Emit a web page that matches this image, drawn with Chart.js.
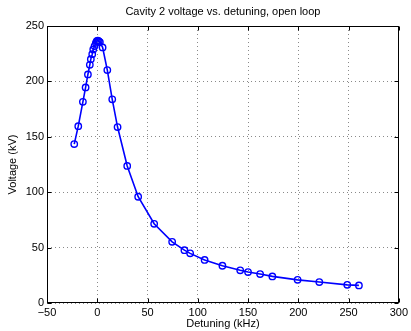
<!DOCTYPE html>
<html>
<head>
<meta charset="utf-8">
<script src="https://cdn.jsdelivr.net/npm/chart.js@4/dist/chart.umd.min.js"></script>
<style>
html,body{margin:0;padding:0;background:#fff;}
canvas{display:block;}
</style>
</head>
<body>
<canvas id="c" width="411" height="331"></canvas>
<script>
const titleText = 'Cavity 2 voltage vs. detuning, open loop';
const xLabel = 'Detuning (kHz)';
const yLabel = 'Voltage (kV)';
const detuning = [-22.9, -18.9, -14.3, -11.6, -9.3, -7.4, -6.4, -5.0, -4.0, -2.7, -1.4, -0.5, 0.5, 1.5, 2.6, 5.3, 10.0, 14.9, 20.2, 29.8, 40.7, 56.6, 74.5, 86.7, 92.4, 106.8, 124.5, 142.2, 150.0, 162.0, 174.2, 199.3, 220.9, 248.7, 260.3];
const voltage = [143.4, 159.6, 181.6, 194.6, 206.3, 215.0, 220.1, 224.6, 228.9, 231.9, 234.8, 236.3, 236.7, 236.3, 235.5, 230.7, 210.2, 183.8, 158.8, 123.7, 95.9, 71.5, 55.2, 47.7, 44.8, 38.9, 33.6, 29.5, 27.9, 26.1, 24.0, 20.9, 18.9, 16.4, 15.9];
const xTicks = [-50, 0, 50, 100, 150, 200, 250, 300];
const yTicks = [0, 50, 100, 150, 200, 250];

const FONT = 'Liberation Sans, Arial, Helvetica, sans-serif';
Chart.defaults.font.family = FONT;
Chart.defaults.font.size = 11;
Chart.defaults.color = '#000';

const points = detuning.map((x, i) => ({x: x, y: voltage[i]}));

const frame = {
  id: 'frame',
  afterDatasetsDraw(chart) {
    const ctx = chart.ctx, a = chart.chartArea;
    const xs = chart.scales.x, ys = chart.scales.y;
    const L = Math.round(a.left) + 0.5, R = Math.round(a.right) - 0.5;
    const T = Math.round(a.top) + 0.5, B = Math.round(a.bottom) - 0.5;
    ctx.save();
    ctx.strokeStyle = '#000';
    ctx.lineWidth = 1;
    ctx.beginPath();
    const tl = 4;
    xTicks.forEach(v => {
      const px = Math.round(xs.getPixelForValue(v)) + 0.5;
      ctx.moveTo(px, B); ctx.lineTo(px, B - tl);
      ctx.moveTo(px, T); ctx.lineTo(px, T + tl);
    });
    yTicks.forEach(v => {
      const py = Math.round(ys.getPixelForValue(v)) + 0.5;
      ctx.moveTo(L, py); ctx.lineTo(L + tl, py);
      ctx.moveTo(R, py); ctx.lineTo(R - tl, py);
    });
    ctx.stroke();
    ctx.strokeRect(L, T, R - L, B - T);
    ctx.fillStyle = '#000';
    ctx.font = '11px ' + FONT;
    ctx.textAlign = 'center';
    ctx.textBaseline = 'middle';
    ctx.fillText(titleText, (a.left + a.right) / 2, 12);
    ctx.restore();
  }
};

const fmt = v => (v < 0 ? '\u2212' + Math.abs(v) : String(v));

new Chart(document.getElementById('c'), {
  type: 'line',
  data: {
    datasets: [{
      data: points,
      borderColor: '#0000ff',
      backgroundColor: 'rgba(0,0,0,0)',
      borderWidth: 1.6,
      pointRadius: 3.2,
      pointBorderWidth: 1.4,
      pointBorderColor: '#0000ff',
      pointBackgroundColor: 'rgba(0,0,0,0)',
      tension: 0,
      fill: false
    }]
  },
  options: {
    responsive: false,
    animation: false,
    devicePixelRatio: 1,
    layout: {padding: {left: 0, right: 12, top: 26, bottom: 0}},
    plugins: {legend: {display: false}, tooltip: {enabled: false}, title: {display: false}},
    scales: {
      x: {
        type: 'linear', min: -50, max: 300,
        afterBuildTicks: s => { s.ticks = xTicks.map(v => ({value: v})); },
        afterFit: s => { s.height = 28; },
        ticks: {callback: fmt, padding: 3, maxRotation: 0, autoSkip: false},
        grid: {color: '#8a8a8a', lineWidth: 1, drawTicks: false},
        border: {display: false, dash: [1, 3]},
        title: {display: true, text: xLabel, padding: {top: 0, bottom: 0}, font: {size: 11}}
      },
      y: {
        type: 'linear', min: 0, max: 250,
        afterBuildTicks: s => { s.ticks = yTicks.map(v => ({value: v})); },
        afterFit: s => { s.width = 47; },
        ticks: {callback: fmt, padding: 3, autoSkip: false},
        grid: {color: '#8a8a8a', lineWidth: 1, drawTicks: false},
        border: {display: false, dash: [1, 3]},
        title: {display: true, text: yLabel, padding: {top: 6, bottom: 0}, font: {size: 11}}
      }
    }
  },
  plugins: [frame]
});
</script>
</body>
</html>
